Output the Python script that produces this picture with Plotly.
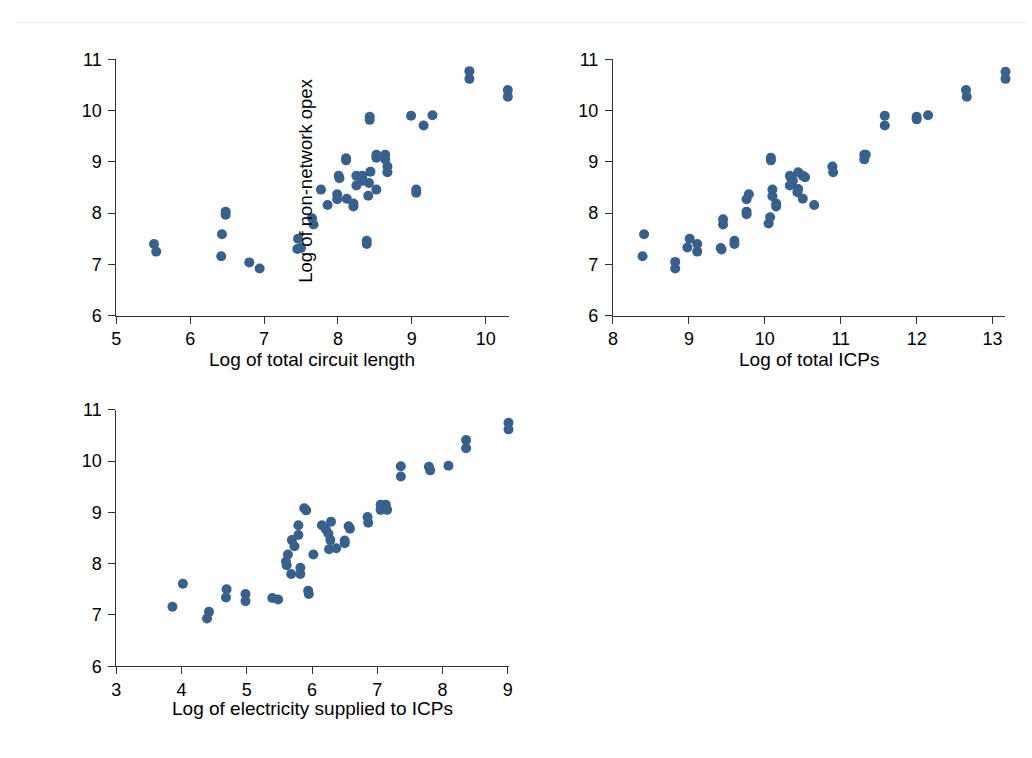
import plotly.graph_objects as go

# Log of non-network opex against three scale measures
circuit_x = [5.51, 5.54, 6.43, 6.42, 6.48, 6.48, 6.80, 6.94, 7.46, 7.45, 7.50, 7.65, 7.67,
             7.77, 7.86, 7.99, 7.99, 8.01, 8.02, 8.11, 8.11, 8.12, 8.21, 8.21, 8.25, 8.25,
             8.33, 8.33, 8.44, 8.42, 8.41, 8.39, 8.39, 8.43, 8.43, 8.52, 8.52, 8.64, 8.64,
             8.52, 8.67, 8.67, 8.99, 9.06, 9.06, 9.16, 9.28, 9.78, 9.78, 10.30, 10.30]
circuit_y = [7.40, 7.25, 7.59, 7.16, 8.03, 7.97, 7.04, 6.92, 7.50, 7.30, 7.32, 7.90, 7.78,
             8.46, 8.16, 8.37, 8.27, 8.73, 8.68, 9.07, 9.03, 8.28, 8.19, 8.13, 8.73, 8.54,
             8.73, 8.63, 8.81, 8.59, 8.34, 7.46, 7.40, 9.88, 9.82, 9.14, 9.08, 9.14, 9.05,
             8.46, 8.91, 8.80, 9.90, 8.46, 8.40, 9.71, 9.91, 10.77, 10.62, 10.40, 10.27]

icp_x = [8.41, 8.39, 8.82, 8.82, 9.01, 8.98, 9.11, 9.11, 9.42, 9.43, 9.45, 9.45, 9.60,
         9.60, 9.76, 9.76, 9.76, 9.79, 10.05, 10.07, 10.08, 10.08, 10.10, 10.10, 10.15,
         10.15, 10.33, 10.33, 10.35, 10.44, 10.43, 10.50, 10.53, 10.50, 10.44, 10.65,
         10.89, 10.90, 11.31, 11.31, 11.33, 11.58, 11.58, 12.00, 12.00, 12.15, 12.65,
         12.66, 13.17, 13.17, 10.37]
icp_y = [7.59, 7.16, 7.05, 6.92, 7.50, 7.33, 7.40, 7.25, 7.32, 7.29, 7.88, 7.78, 7.46,
         7.40, 8.03, 7.98, 8.27, 8.37, 7.80, 7.92, 9.08, 9.03, 8.46, 8.33, 8.19, 8.13,
         8.73, 8.54, 8.67, 8.80, 8.41, 8.73, 8.70, 8.28, 8.47, 8.16, 8.91, 8.80, 9.14,
         9.05, 9.14, 9.90, 9.71, 9.88, 9.83, 9.91, 10.40, 10.27, 10.76, 10.62, 8.63]

elec_x = [3.86, 4.02, 4.39, 4.42, 4.69, 4.68, 4.98, 4.98, 5.39, 5.48, 5.94, 5.95, 5.63,
          5.60, 5.61, 5.68, 5.82, 5.82, 6.02, 5.69, 5.73, 5.79, 5.79, 5.88, 5.91, 6.15,
          6.21, 6.29, 6.25, 6.28, 6.26, 6.37, 6.50, 6.50, 6.56, 6.58, 6.85, 6.86, 7.05,
          7.05, 7.13, 7.15, 7.36, 7.36, 7.79, 7.81, 8.09, 8.36, 8.36, 9.01, 9.01]
elec_y = [7.16, 7.61, 6.93, 7.06, 7.50, 7.34, 7.41, 7.27, 7.33, 7.30, 7.47, 7.41, 8.18,
          8.04, 7.97, 7.80, 7.92, 7.80, 8.18, 8.46, 8.34, 8.56, 8.75, 9.08, 9.04, 8.75,
          8.67, 8.82, 8.59, 8.46, 8.28, 8.30, 8.45, 8.40, 8.73, 8.68, 8.91, 8.80, 9.15,
          9.05, 9.15, 9.05, 9.90, 9.70, 9.89, 9.82, 9.91, 10.41, 10.25, 10.75, 10.62]

y_ticks = [6, 7, 8, 9, 10, 11]
circuit_ticks = [5, 6, 7, 8, 9, 10]
icp_ticks = [8, 9, 10, 11, 12, 13]
elec_ticks = [3, 4, 5, 6, 7, 8, 9]

MARKER = "#36618f"
AXIS = "#333333"
FONT = "Liberation Sans, Arial, sans-serif"
TICK_FS = 18
TITLE_FS = 19

W, H = 1032, 758

fig = go.Figure()

panels = [
    (circuit_x, circuit_y, "x", "y"),
    (icp_x, icp_y, "x2", "y2"),
    (elec_x, elec_y, "x3", "y3"),
]
for xs, ys, xa, ya in panels:
    fig.add_trace(go.Scatter(
        x=xs, y=ys, xaxis=xa, yaxis=ya, mode="markers", cliponaxis=False,
        marker=dict(color=MARKER, size=10, line=dict(width=0)),
        showlegend=False, hoverinfo="skip",
    ))


def x_axis(domain, rng, ticks, anchor):
    return dict(
        domain=domain, range=rng, anchor=anchor, tickvals=ticks,
        showgrid=False, zeroline=False, showline=True, linecolor=AXIS, linewidth=1,
        ticks="outside", ticklen=7, tickcolor=AXIS,
        tickfont=dict(family=FONT, size=TICK_FS, color="#000"),
    )


def y_axis(domain, anchor):
    return dict(
        domain=domain, range=[6, 11], anchor=anchor, tickvals=y_ticks,
        showgrid=False, zeroline=False, showline=True, linecolor=AXIS, linewidth=1,
        ticks="outside", ticklen=7, tickcolor=AXIS, ticklabelstandoff=3,
        tickfont=dict(family=FONT, size=TICK_FS, color="#000"),
    )


def px_x(p):
    return p / W


def px_y(p):
    return 1 - p / H


top_dom = [px_y(314), px_y(50.7)]
bot_dom = [px_y(674), px_y(410.7)]
tl_dom = [px_x(112.3), px_x(508)]
tr_dom = [px_x(613.3), px_x(1009.3)]
bl_dom = [px_x(112.3), px_x(508.6)]


def label(text, x, y, size, angle=0):
    return dict(text=text, textangle=angle, xref="paper", yref="paper",
                x=x, y=y, xanchor="center", yanchor="middle", showarrow=False,
                font=dict(family=FONT, size=size, color="#000"))


fig.update_layout(
    width=W, height=H,
    margin=dict(l=0, r=0, t=0, b=0),
    paper_bgcolor="white", plot_bgcolor="white",
    xaxis=x_axis(tl_dom, [5, 10.31], circuit_ticks, "y"),
    yaxis=y_axis(top_dom, "x"),
    xaxis2=x_axis(tr_dom, [8, 13.17], icp_ticks, "y2"),
    yaxis2=y_axis(top_dom, "x2"),
    xaxis3=x_axis(bl_dom, [3, 9.02], elec_ticks, "y3"),
    yaxis3=y_axis(bot_dom, "x3"),
    shapes=[dict(type="line", xref="paper", yref="paper",
                 x0=px_x(10), x1=1, y0=px_y(13), y1=px_y(13),
                 line=dict(color="#ececec", width=1))],
    annotations=[
        label("Log of total circuit length", (112.3 + 508) / 2 / W, px_y(359), TITLE_FS),
        label("Log of total ICPs", sum(tr_dom) / 2, px_y(359), TITLE_FS),
        label("Log of electricity supplied to ICPs", (112.3 + 507.3) / 2 / W, px_y(717.5), TITLE_FS),
        label("Log of non-network opex", px_x(303), px_y(175), 18.5, angle=-90),
    ],
)

fig.write_html("out.html")
